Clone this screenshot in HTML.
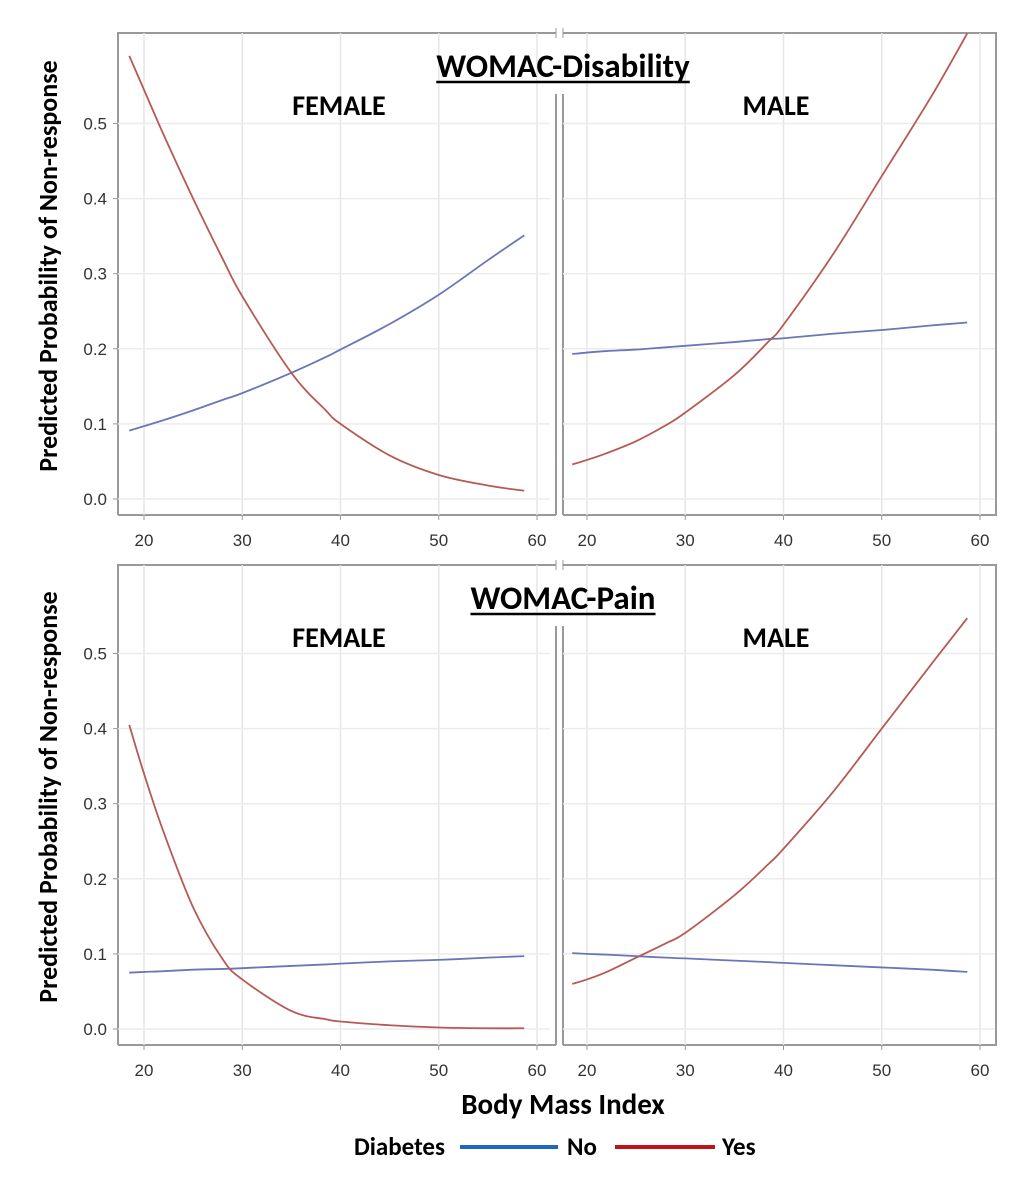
<!DOCTYPE html>
<html><head><meta charset="utf-8"><style>
body{margin:0;background:#fff;}
svg text{font-family:"Liberation Sans",sans-serif;}
.b{font-family:Calibri,"Carlito","Liberation Sans",sans-serif;font-weight:bold;fill:#000;}
</style></head><body>
<svg id="c" width="1024" height="1187" xmlns="http://www.w3.org/2000/svg"></svg>
<script>
const xTicks=[20,30,40,50,60];
const yTicks=[0.0,0.1,0.2,0.3,0.4,0.5];
const bmi=[18.5,20,22,25,28,30,35,38.5,40,45,50,55,58.7];
const disFemaleNo=[0.091,0.097,0.105,0.118,0.132,0.141,0.168,0.189,0.199,0.233,0.272,0.318,0.351];
const disFemaleYes=[0.59,0.545,0.485,0.4,0.32,0.27,0.168,0.118,0.1,0.058,0.032,0.018,0.011];
const disMaleNo=[0.193,0.195,0.197,0.199,0.202,0.204,0.209,0.213,0.214,0.22,0.225,0.231,0.235];
const disMaleYes=[0.046,0.052,0.061,0.077,0.098,0.115,0.165,0.21,0.232,0.325,0.43,0.535,0.62];
const painFemaleNo=[0.075,0.076,0.077,0.079,0.08,0.081,0.084,0.086,0.087,0.09,0.092,0.095,0.097];
const painFemaleYes=[0.405,0.34,0.262,0.162,0.093,0.066,0.024,0.013,0.01,0.005,0.002,0.001,0.001];
const painMaleNo=[0.101,0.1,0.099,0.097,0.095,0.094,0.091,0.089,0.088,0.085,0.082,0.079,0.076];
const painMaleYes=[0.06,0.066,0.076,0.095,0.114,0.128,0.178,0.22,0.24,0.315,0.4,0.485,0.547];

const svg=document.getElementById('c');
const NS='http://www.w3.org/2000/svg';
function mk(t,a,p){const e=document.createElementNS(NS,t);for(const k in a)e.setAttribute(k,a[k]);(p||svg).appendChild(e);return e;}
const BLUE='#6a76b6',RED='#b65a55';
function panel(name,x0,x20,yTop,y0,yBot,dataNo,dataYes,label,labelX){
  const g=mk('g',{});
  
  
  const sx=v=>x20+(v-20)*(393/40);
  const sy=v=>y0-v*751;
  xTicks.forEach(t=>{const l=mk('line',{x1:sx(t),x2:sx(t),y1:yTop,y2:yBot,stroke:'#e6e6e6','stroke-width':1.5},g);
    
    mk('line',{x1:sx(t),x2:sx(t),y1:yBot,y2:yBot+5,stroke:'#999'},g);
    const tx=mk('text',{x:sx(t),y:yBot+31,'text-anchor':'middle','font-size':17,fill:'#333'},g);tx.textContent=t;
    });
  yTicks.forEach(t=>{const l=mk('line',{x1:x0,x2:x0+432,y1:sy(t),y2:sy(t),stroke:'#ececec','stroke-width':1.5},g);
    });
  const cp=mk('clipPath',{id:name+'-clip'},g);mk('rect',{x:x0,y:yTop,width:440,height:yBot-yTop},cp);
  const lg=mk('g',{'clip-path':'url(#'+name+'-clip)'},g);
  const drawLine=(vals,col,n)=>{const pts=bmi.map((b,i)=>[sx(b),sy(vals[i])]);let d='M'+pts[0][0]+','+pts[0][1];
    for(let i=0;i<pts.length-1;i++){const p0=pts[Math.max(0,i-1)],p1=pts[i],p2=pts[i+1],p3=pts[Math.min(pts.length-1,i+2)];
      d+=' C'+(p1[0]+(p2[0]-p0[0])/6)+','+(p1[1]+(p2[1]-p0[1])/6)+' '+(p2[0]-(p3[0]-p1[0])/6)+','+(p2[1]-(p3[1]-p1[1])/6)+' '+p2[0]+','+p2[1];}
    const p=mk('path',{d:d,fill:'none',stroke:col,'stroke-width':1.8},lg);
    };
  drawLine(dataNo,BLUE,'line-diabetes-no');
  drawLine(dataYes,RED,'line-diabetes-yes');
  const lt=mk('text',{x:labelX,y:yTop+82,'text-anchor':'middle','font-size':28,class:'b'},g);lt.textContent=label;
  
}
function row(prefix,title,yTop,y0,yBot,a,b,c,d){
  mk('path',{d:`M118,${yBot} V${yTop} H556 M563,${yTop} H996 V${yBot} H563 M118,${yBot} H556`,fill:'none',stroke:'#999','stroke-width':2});
  mk('line',{x1:556,x2:556,y1:yTop+61,y2:yBot,stroke:'#999','stroke-width':2});
  mk('line',{x1:563,x2:563,y1:yTop+61,y2:yBot,stroke:'#999','stroke-width':2});
  mk('line',{x1:556,x2:556,y1:yTop-5,y2:yTop+5,stroke:'#999','stroke-width':1});
  mk('line',{x1:563,x2:563,y1:yTop-5,y2:yTop+5,stroke:'#999','stroke-width':1});
  panel(prefix+'-female',118,144,yTop,y0,yBot,a,b,'FEMALE',339);
  panel(prefix+'-male',563,587,yTop,y0,yBot,c,d,'MALE',776);
  yTicks.forEach(t=>{const y=y0-t*751;mk('line',{x1:113,x2:118,y1:y,y2:y,stroke:'#999'});
    const tx=mk('text',{x:107,y:y+6,'text-anchor':'end','font-size':17,fill:'#333'});tx.textContent=t.toFixed(1);
    });
  const tt=mk('text',{x:563,y:yTop+44,'text-anchor':'middle','font-size':33,class:'b'});tt.textContent=title;
  
  const w=tt.getComputedTextLength();mk('line',{x1:563-w/2,x2:563+w/2,y1:yTop+49,y2:yTop+49,stroke:'#000','stroke-width':2.5});
  const yt=mk('text',{x:0,y:0,'text-anchor':'middle','font-size':26,class:'b',transform:`translate(57,${(yTop+yBot)/2-8}) rotate(-90)`});
  yt.textContent='Predicted Probability of Non-response';
  
}
row('disability','WOMAC-Disability',33,499,515,disFemaleNo,disFemaleYes,disMaleNo,disMaleYes);
row('pain','WOMAC-Pain',565,1029,1045,painFemaleNo,painFemaleYes,painMaleNo,painMaleYes);
const xt=mk('text',{x:563,y:1114,'text-anchor':'middle','font-size':29,class:'b'});xt.textContent='Body Mass Index';

const lg=mk('g',{});


const l1=mk('text',{x:354,y:1155,'font-size':25,class:'b'},lg);l1.textContent='Diabetes';
mk('line',{x1:460,x2:558,y1:1147,y2:1147,stroke:'#1f66c0','stroke-width':4},lg);
const l2=mk('text',{x:567,y:1155,'font-size':25,class:'b'},lg);l2.textContent='No';
mk('line',{x1:615,x2:715,y1:1147,y2:1147,stroke:'#c0121a','stroke-width':4},lg);
const l3=mk('text',{x:722,y:1155,'font-size':25,class:'b'},lg);l3.textContent='Yes';
</script>
</body></html>
